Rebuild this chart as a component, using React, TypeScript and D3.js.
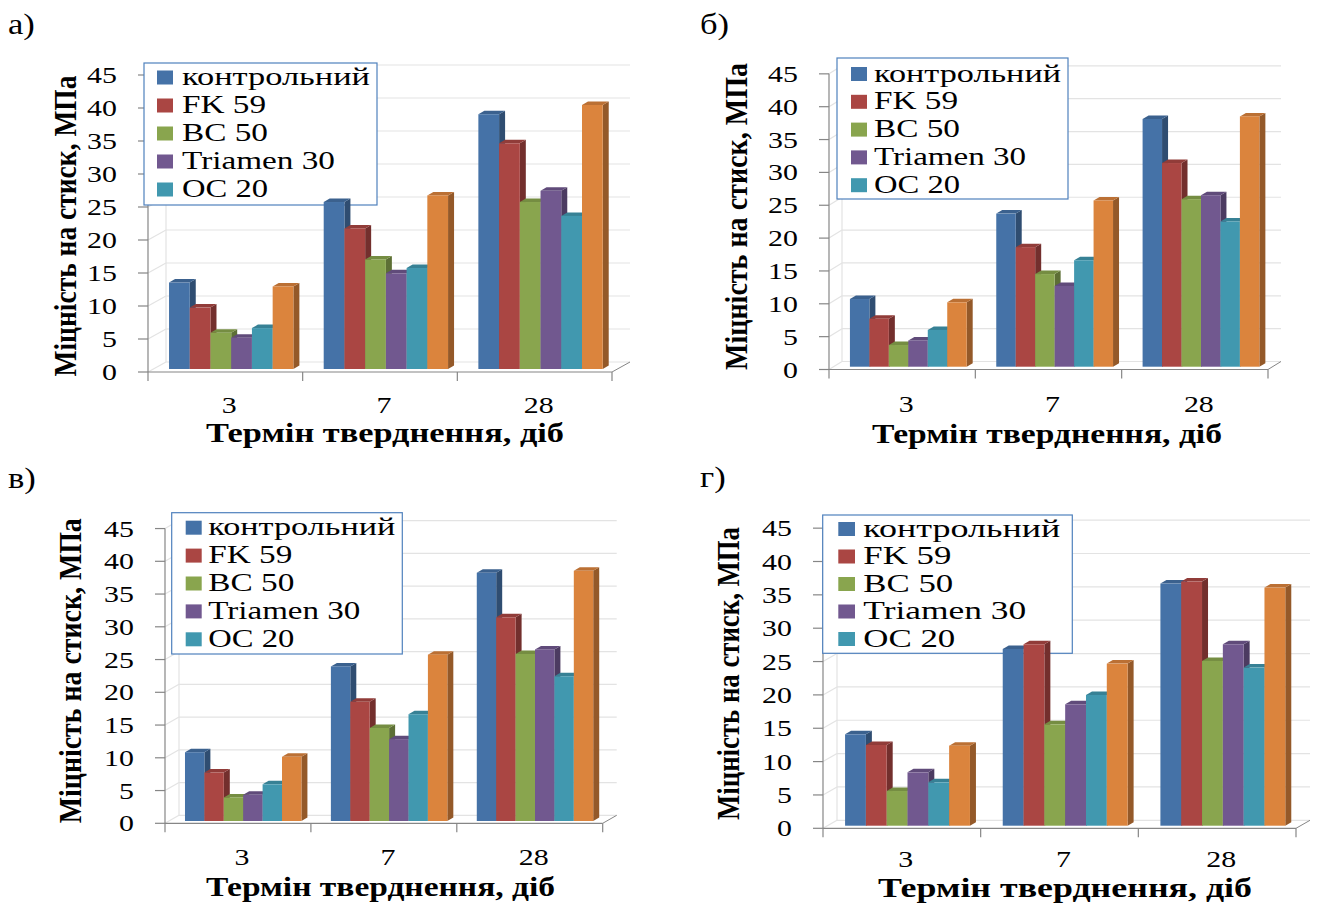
import React from "react";
import * as d3 from "d3";

// ---------- data ----------
const categories = ["3", "7", "28"];
const seriesNames = ["контрольний", "FK 59", "BC 50", "Triamen 30", "OC 20", "серія 6"];
const legendNames = ["контрольний", "FK 59", "BC 50", "Triamen 30", "OC 20"];
const seriesColors = ["#4572A7", "#AA4643", "#89A54E", "#71588F", "#4198AF", "#DB843D"];
const valueTicks = [0, 5, 10, 15, 20, 25, 30, 35, 40, 45];
const panelLabels = ["а)", "б)", "в)", "г)"];
const yTitle = "Міцність на стиск, МПа";
const xTitle = "Термін тверднення, діб";

// values per series (rows) for categories 3, 7, 28 (columns)
const valuesA = [
  [13.1, 25.3, 38.6],
  [9.3, 21.3, 34.2],
  [5.5, 16.6, 25.3],
  [4.75, 14.5, 27.0],
  [6.2, 15.3, 23.2],
  [12.5, 26.3, 40.0],
];
const valuesB = [
  [10.3, 23.3, 37.7],
  [7.3, 18.2, 31.0],
  [3.3, 14.1, 25.5],
  [4.0, 12.3, 26.1],
  [5.6, 16.2, 22.1],
  [9.8, 25.3, 38.1],
];
const valuesC = [
  [10.5, 23.6, 37.9],
  [7.4, 18.2, 31.1],
  [3.6, 14.2, 25.5],
  [4.0, 12.5, 26.2],
  [5.6, 16.3, 22.1],
  [9.8, 25.4, 38.2],
];
const valuesD = [
  [13.7, 26.5, 36.3],
  [12.1, 27.2, 36.6],
  [5.2, 15.2, 24.7],
  [8.0, 18.2, 27.2],
  [6.5, 19.6, 23.7],
  [12.0, 24.3, 35.7],
];
const panelValues = [valuesA, valuesB, valuesC, valuesD];

// ---------- layout ----------
const layouts = [
  {
    axisX: 148, y0: 372, unit: 6.6, right: 612, fdx: 18, fdy: -10, lift: 3,
    barStart: 0.136, barFrac: 0.134, catDy: 41,
    legend: { x: 144, y: 63, w: 233, h: 142, row0: 14.5, step: 28, swX: 13, swW: 16, txX: 38 },
    legendW: [188, 84, 86, 153, 86],
    label: { x: 8, y: 34 },
    xt: { cx: 385, y: 442, w: 358 },
    yt: { cx: 66, cy: 226, len: 301 },
  },
  {
    axisX: 829, y0: 369.5, unit: 6.57, right: 1268, fdx: 13, fdy: -8, lift: 2.8,
    barStart: 0.143, barFrac: 0.133, catDy: 42,
    legend: { x: 837, y: 58, w: 231, h: 141, row0: 16, step: 27.8, swX: 14, swW: 16, txX: 37 },
    legendW: [187, 84, 86, 152, 86],
    label: { x: 700, y: 34 },
    xt: { cx: 1047, y: 443, w: 350 },
    yt: { cx: 737, cy: 216.5, len: 307 },
  },
  {
    axisX: 165, y0: 823.3, unit: 6.55, right: 602.7, fdx: 14, fdy: -8, lift: 2.3,
    barStart: 0.137, barFrac: 0.133, catDy: 42,
    legend: { x: 171.7, y: 512.7, w: 230.6, h: 141.3, row0: 15, step: 27.9, swX: 14, swW: 16, txX: 36.6 },
    legendW: [187, 84, 86, 152, 86],
    label: { x: 8, y: 488 },
    xt: { cx: 380.5, y: 896, w: 349 },
    yt: { cx: 71, cy: 670.7, len: 305 },
  },
  {
    axisX: 823, y0: 828.3, unit: 6.67, right: 1296, fdx: 14, fdy: -8, lift: 2.6,
    barStart: 0.14, barFrac: 0.132, catDy: 39,
    legend: { x: 822.7, y: 515, w: 249.6, h: 138.3, row0: 14, step: 27.5, swX: 15.6, swW: 16.7, txX: 40.6 },
    legendW: [197, 88, 90, 163, 92],
    label: { x: 700, y: 487 },
    xt: { cx: 1065, y: 897, w: 374 },
    yt: { cx: 729, cy: 673.5, len: 293 },
  },
];

const serif = '"Liberation Serif", "Times New Roman", Tinos, serif';
const AXIS = "#868686";
const GRID = "#e3e3e3";
const BDX = 6;
const BDY = -3.5;

function SText(props: any) {
  const { x, y, sx = 1.3, anchor = "start", size, bold, children, len, rotate } = props;
  const t = `translate(${x},${y}) scale(${sx},1)` + (rotate ? ` rotate(${rotate})` : "");
  return (
    <text
      transform={t}
      textAnchor={anchor}
      style={{ fontFamily: serif, fontSize: size, fontWeight: bold ? 700 : 400 }}
      fill="#000"
      textLength={len ? len / (rotate ? 1 : sx) : undefined}
      lengthAdjust={len ? "spacingAndGlyphs" : undefined}
    >
      {children}
    </text>
  );
}

function Panel({ L, values, label }: any) {
  const y = d3.scaleLinear().domain([0, 45]).range([L.y0, L.y0 - 45 * L.unit]);
  const x = d3.scaleBand<string>().domain(categories).range([L.axisX, L.right]);
  const bw = x.bandwidth();
  const inner = d3
    .scaleBand<number>()
    .domain(d3.range(seriesNames.length))
    .range([L.barStart * bw, (L.barStart + seriesNames.length * L.barFrac) * bw]);
  const w = inner.bandwidth();
  const { fdx, fdy } = L;
  const lg = L.legend;

  const bars: any[] = [];
  categories.forEach((c, ci) => {
    values.forEach((row: number[], si: number) => {
      const v = row[ci];
      const x0 = (x(c) as number) + (inner(si) as number);
      const yb = y(0) - L.lift;
      const yt = y(v) - L.lift;
      const base = d3.color(seriesColors[si])!;
      const side = base.darker(1.1).formatHex();
      const top = base.darker(0.45).formatHex();
      bars.push(
        <g key={`${ci}-${si}`}>
          <path
            d={`M${x0 + w},${yt} L${x0 + w + BDX},${yt + BDY} L${x0 + w + BDX},${yb + BDY} L${x0 + w},${yb} Z`}
            fill={side}
          />
          <path
            d={`M${x0},${yt} L${x0 + BDX},${yt + BDY} L${x0 + w + BDX},${yt + BDY} L${x0 + w},${yt} Z`}
            fill={top}
          />
          <rect x={x0} y={yt} width={w} height={yb - yt} fill={seriesColors[si]} />
        </g>
      );
    });
  });

  return (
    <g>
      {valueTicks.map((v) => (
        <g key={`g${v}`}>
          <line x1={L.axisX + fdx} x2={L.right + fdx} y1={y(v) + fdy} y2={y(v) + fdy} stroke={GRID} strokeWidth={1.2} />
          <line x1={L.axisX} x2={L.axisX + fdx} y1={y(v)} y2={y(v) + fdy} stroke={GRID} strokeWidth={1.2} />
        </g>
      ))}
      <line x1={L.axisX + fdx} x2={L.axisX + fdx} y1={y(0) + fdy} y2={y(45) + fdy} stroke={GRID} strokeWidth={1.2} />
      <line x1={L.right} x2={L.right + fdx} y1={y(0)} y2={y(0) + fdy} stroke={AXIS} strokeWidth={1} />
      <line x1={L.axisX} x2={L.axisX} y1={y(45)} y2={y(0) + 9} stroke={AXIS} strokeWidth={1.2} />
      {valueTicks.map((v) => (
        <line key={`t${v}`} x1={L.axisX - 10} x2={L.axisX} y1={y(v)} y2={y(v)} stroke={AXIS} strokeWidth={1.2} />
      ))}
      <line x1={L.axisX} x2={L.right} y1={y(0)} y2={y(0)} stroke={AXIS} strokeWidth={1.2} />
      {categories.map((c) => (
        <line key={`ct${c}`} x1={(x(c) as number) + bw} x2={(x(c) as number) + bw} y1={y(0)} y2={y(0) + 9} stroke={AXIS} strokeWidth={1.2} />
      ))}
      <rect x={lg.x} y={lg.y} width={lg.w} height={lg.h} fill="#fff" stroke="#4F81BD" strokeWidth={1.2} />
      {legendNames.map((n, i) => {
        const cy = lg.y + lg.row0 + i * lg.step;
        return (
          <g key={`l${i}`}>
            <rect x={lg.x + lg.swX} y={cy - 7} width={lg.swW} height={14} fill={seriesColors[i]} />
            <text
              x={lg.x + lg.txX}
              y={cy + 7.5}
              style={{ fontFamily: serif, fontSize: 25 }}
              textLength={L.legendW[i]}
              lengthAdjust="spacingAndGlyphs"
            >
              {n}
            </text>
          </g>
        );
      })}
      {bars}
      {valueTicks.map((v) => (
        <SText key={`tl${v}`} x={L.axisX - 31} y={y(v) + 8} anchor="end" size={23}>
          {String(v)}
        </SText>
      ))}
      {categories.map((c) => (
        <SText key={`cl${c}`} x={(x(c) as number) + bw / 2 + 4} y={y(0) + L.catDy} anchor="middle" size={23}>
          {c}
        </SText>
      ))}
      <SText x={L.xt.cx} y={L.xt.y} anchor="middle" size={27} bold len={L.xt.w}>
        {xTitle}
      </SText>
      <SText x={L.yt.cx + 10} y={L.yt.cy} anchor="middle" size={25} bold sx={1.25} rotate={-90} len={L.yt.len}>
        {yTitle}
      </SText>
      <SText x={L.label.x} y={L.label.y} size={30} sx={1.15}>
        {label}
      </SText>
    </g>
  );
}

export default function App() {
  return (
    <svg
      width={1322}
      height={905}
      style={{ position: "absolute", left: 0, top: 0, background: "#fff" }}
    >
      <rect width={1322} height={905} fill="#fff" />
      {layouts.map((L, i) => (
        <Panel key={i} L={L} values={panelValues[i]} label={panelLabels[i]} />
      ))}
    </svg>
  );
}
